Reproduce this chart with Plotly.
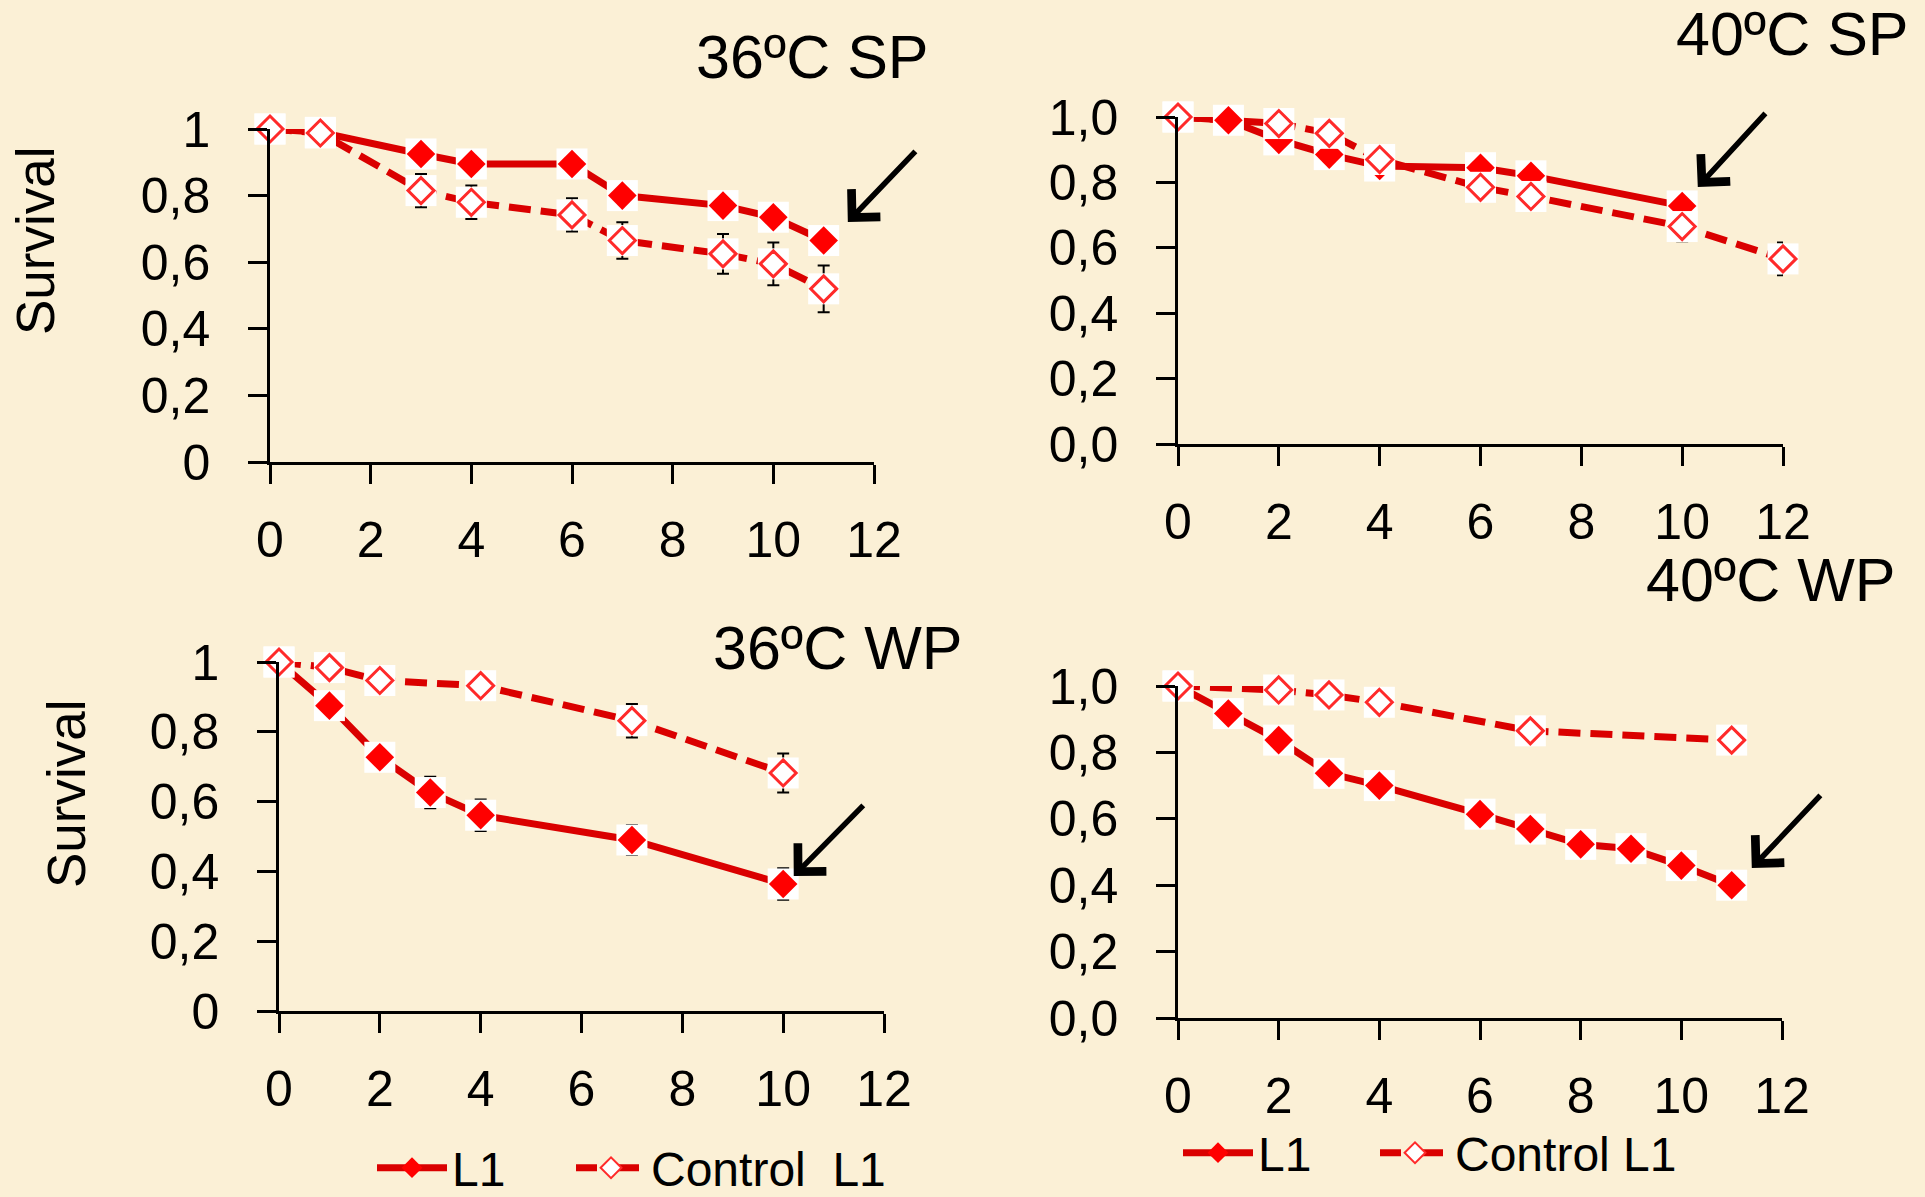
import plotly.graph_objects as go

# ---------------- data ----------------
# 36ºC SP
sp36_days_l1 = [0, 1, 3, 4, 6, 7, 9, 10, 11]
sp36_l1 = [1.0, 0.99, 0.925, 0.895, 0.895, 0.80, 0.77, 0.735, 0.665]
sp36_days_ctrl = [0, 1, 3, 4, 6, 7, 9, 10, 11]
sp36_ctrl = [1.0, 0.988, 0.815, 0.78, 0.742, 0.665, 0.625, 0.595, 0.52]
sp36_ctrl_err = [0, 0, 0.05, 0.05, 0.05, 0.055, 0.06, 0.064, 0.07]

# 40ºC SP
sp40_days_l1 = [0, 1, 2, 3, 4, 6, 7, 10]
sp40_l1 = [1.0, 0.99, 0.93, 0.885, 0.85, 0.845, 0.82, 0.728]
sp40_days_ctrl = [0, 2, 3, 4, 6, 7, 10, 12]
sp40_ctrl = [1.0, 0.98, 0.95, 0.87, 0.785, 0.757, 0.665, 0.566]
sp40_ctrl_err = [0, 0, 0, 0, 0, 0, 0.045, 0.05]

# 36ºC WP
wp36_days_l1 = [0, 1, 2, 3, 4, 7, 10]
wp36_l1 = [1.0, 0.875, 0.727, 0.626, 0.561, 0.49, 0.364]
wp36_l1_err = [0, 0.01, 0.02, 0.045, 0.045, 0.043, 0.045]
wp36_days_ctrl = [0, 1, 2, 4, 7, 10]
wp36_ctrl = [1.0, 0.984, 0.947, 0.932, 0.832, 0.682]
wp36_ctrl_err = [0, 0, 0, 0, 0.048, 0.056]

# 40ºC WP
wp40_days_l1 = [0, 1, 2, 3, 4, 6, 7, 8, 9, 10, 11]
wp40_l1 = [1.0, 0.917, 0.837, 0.737, 0.70, 0.614, 0.569, 0.523, 0.51, 0.459, 0.40]
wp40_days_ctrl = [0, 2, 3, 4, 7, 11]
wp40_ctrl = [1.0, 0.988, 0.973, 0.951, 0.865, 0.837]

panel_titles = ["36ºC SP", "40ºC SP", "36ºC WP", "40ºC WP"]
series_names = ["L1", "Control  L1", "Control L1"]
y_label = "Survival"
x_ticks = [0, 2, 4, 6, 8, 10, 12]

# ---------------- style ----------------
BG = "#FBF0D6"
LINE_RED = "#DA0000"
MARK_RED = "#FF0000"
FONT = "Liberation Sans, Arial, sans-serif"
DASH = "22px,10px"

fig = go.Figure()

panels = [
    dict(xa="x", ya="y", l1=(sp36_days_l1, sp36_l1, None),
         c=(sp36_days_ctrl, sp36_ctrl, sp36_ctrl_err)),
    dict(xa="x2", ya="y2", l1=(sp40_days_l1, sp40_l1, None),
         c=(sp40_days_ctrl, sp40_ctrl, sp40_ctrl_err)),
    dict(xa="x3", ya="y3", l1=(wp36_days_l1, wp36_l1, wp36_l1_err),
         c=(wp36_days_ctrl, wp36_ctrl, wp36_ctrl_err)),
    dict(xa="x4", ya="y4", l1=(wp40_days_l1, wp40_l1, None),
         c=(wp40_days_ctrl, wp40_ctrl, None)),
]


def err(e):
    if e is None:
        return dict(visible=False)
    return dict(type="data", array=e, visible=True, color="black",
                thickness=2, width=6)


for p in panels:
    # lines (with error bars)
    for key, dash in (("l1", "solid"), ("c", DASH)):
        xs, ys, e = p[key]
        fig.add_trace(go.Scatter(
            x=xs, y=ys, xaxis=p["xa"], yaxis=p["ya"], mode="lines",
            line=dict(color=LINE_RED, width=7, dash=dash),
            error_y=err(e), showlegend=False, cliponaxis=False,
            hoverinfo="skip"))
    # markers: white square backgrounds + diamonds
    for key in ("l1", "c"):
        xs, ys, _ = p[key]
        fig.add_trace(go.Scatter(
            x=xs, y=ys, xaxis=p["xa"], yaxis=p["ya"], mode="markers",
            marker=dict(symbol="square", size=31, color="white"),
            showlegend=False, cliponaxis=False, hoverinfo="skip"))
        if key == "l1":
            mk = dict(symbol="diamond", size=22, color=MARK_RED,
                      line=dict(width=0))
        else:
            mk = dict(symbol="diamond", size=20, color="white",
                      line=dict(width=3, color="#FF2A2A"))
        fig.add_trace(go.Scatter(
            x=xs, y=ys, xaxis=p["xa"], yaxis=p["ya"], mode="markers",
            marker=mk, showlegend=False, cliponaxis=False))

# legend-only traces (one legend box per entry)
legend_items = [
    ("legend", series_names[0], "l1", "x3", "y3"),
    ("legend2", series_names[1], "c", "x3", "y3"),
    ("legend3", series_names[0], "l1", "x4", "y4"),
    ("legend4", series_names[2], "c", "x4", "y4"),
]
for leg, name, kind, xa, ya in legend_items:
    if kind == "l1":
        ln = dict(color=LINE_RED, width=7)
        mk = dict(symbol="diamond", size=16, color=MARK_RED)
    else:
        ln = dict(color=LINE_RED, width=7, dash="dashdot")
        mk = dict(symbol="diamond", size=16, color="white",
                  line=dict(width=2, color="#FF2A2A"))
    fig.add_trace(go.Scatter(
        x=[None], y=[None], xaxis=xa, yaxis=ya, mode="lines+markers",
        name=name, legend=leg, line=ln, marker=mk))

# ---------------- axes ----------------
px_w, px_h = 1925, 1197


def dom_x(a, b):
    return [a / px_w, b / px_w]


def dom_y(top, bottom):
    return [1 - bottom / px_h, 1 - top / px_h]


axis_common = dict(showgrid=False, zeroline=False, showline=True,
                   linecolor="black", linewidth=2.5, ticks="outside",
                   ticklen=19, tickwidth=2.5, tickcolor="black",
                   automargin=False,
                   tickfont=dict(family=FONT, size=50, color="black"))

layout_axes = {}
specs = [
    ("xaxis", "yaxis", "y", "x", (270, 874), (129, 462), None),
    ("xaxis2", "yaxis2", "y2", "x2", (1178, 1783), (117, 444), ".1f"),
    ("xaxis3", "yaxis3", "y3", "x3", (279, 884), (662, 1011), None),
    ("xaxis4", "yaxis4", "y4", "x4", (1178, 1782), (686, 1018), ".1f"),
]
for xn, yn, xanchor, yanchor, xd, yd, fmt in specs:
    layout_axes[xn] = dict(axis_common, domain=dom_x(*xd), anchor=xanchor,
                           range=[0, 12], tickvals=x_ticks,
                           ticklabelstandoff=13)
    ya = dict(axis_common, domain=dom_y(*yd), anchor=yanchor,
              range=[0, 1], tick0=0, dtick=0.2, ticklabelstandoff=28)
    if fmt:
        ya["tickformat"] = fmt
    layout_axes[yn] = ya

fig.update_layout(**layout_axes)

# ---------------- annotations ----------------
ann = []
title_pos = [(812, 57), (1792, 34), (837, 648), (1770, 580)]
for t, (cx, cy) in zip(panel_titles, title_pos):
    ann.append(dict(text=t, xref="paper", yref="paper", x=cx / px_w,
                    y=1 - cy / px_h, showarrow=False, xanchor="center",
                    yanchor="middle",
                    font=dict(family=FONT, size=61, color="black")))
for cx, cy in ((35, 241), (66, 794)):
    ann.append(dict(text=y_label, xref="paper", yref="paper", x=cx / px_w,
                    y=1 - cy / px_h, showarrow=False, textangle=-90,
                    xanchor="center", yanchor="middle",
                    font=dict(family=FONT, size=53, color="black")))

arrows = [("x", "y", 11.48, 0.721, 69, -72),
          ("x2", "y2", 10.31, 0.786, 69, -75),
          ("x3", "y3", 10.21, 0.387, 71, -72),
          ("x4", "y4", 11.40, 0.452, 70, -74)]
for xr, yr, x, y, ax, ay in arrows:
    ann.append(dict(text="", xref=xr, yref=yr, x=x, y=y, ax=ax, ay=ay,
                    showarrow=True, arrowhead=4, arrowsize=1.4,
                    arrowwidth=5.5, arrowcolor="black", standoff=0))

legend_common = dict(orientation="h", xanchor="left", yanchor="middle",
                     bgcolor="rgba(0,0,0,0)",
                     font=dict(family=FONT, size=48, color="black"),
                     itemwidth=70, tracegroupgap=0)
legend_pos = {"legend": (372, 1168), "legend2": (571, 1168),
              "legend3": (1178, 1153), "legend4": (1375, 1153)}
legend_layout = {k: dict(legend_common, x=px / px_w, y=1 - py / px_h)
                 for k, (px, py) in legend_pos.items()}

fig.update_layout(
    width=px_w, height=px_h,
    margin=dict(l=0, r=0, t=0, b=0, autoexpand=False),
    paper_bgcolor=BG, plot_bgcolor="rgba(0,0,0,0)",
    separators=", ",
    annotations=ann,
    **legend_layout,
)

fig.write_html("out.html")
